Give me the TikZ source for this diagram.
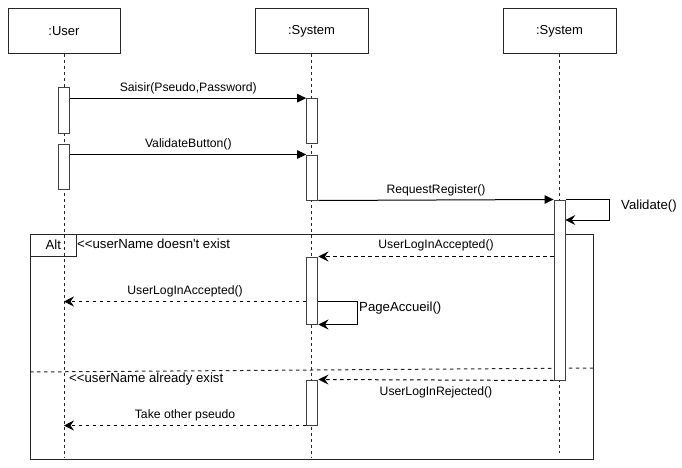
\documentclass[tikz,border=0pt]{standalone}
\usepackage{fontspec}
\setmainfont{Liberation Sans}
\usetikzlibrary{arrows.meta,calc}
\begin{document}
\begin{tikzpicture}[x=1pt,y=-1pt,
  life/.style={draw=black!85, line width=1pt, minimum width=112pt, minimum height=45pt, inner sep=0pt, font=\fontsize{13}{15}\selectfont},
  actbox/.style={draw=black!75, fill=white, line width=1pt, minimum width=11.3pt, inner sep=0pt},
  lline/.style={dash pattern=on 3pt off 3pt, line width=0.9pt, black!85},
  msg/.style={-{Triangle[length=9pt,width=8.5pt]}, line width=1pt},
  ret/.style={-{Stealth[length=10pt,width=10pt,inset=3.5pt]}, dash pattern=on 3.5pt off 3.5pt, line width=1pt},
  selfmsg/.style={-{Stealth[length=10pt,width=10pt,inset=3.5pt]}, line width=1pt},
  mlab/.style={font=\fontsize{12.2}{14}\selectfont, inner sep=0pt},
  big/.style={font=\fontsize{13.2}{15}\selectfont, inner sep=0pt},
]
\useasboundingbox (0,0) rectangle (682,468);

% lifeline heads
\node[life] (user) at (64,31.5) {:User};
\node[life, minimum width=113pt] (sys1) at (311.5,31.5) {:System};
\node[life, minimum width=113pt] (sys2) at (559.5,31.5) {:System};

\coordinate (userEnd) at (64,457);
\coordinate (sys1End) at (311.5,457);
\coordinate (sys2End) at (559.5,453);

\draw[lline] (user.south) -- (userEnd);
\draw[lline] (sys1.south) -- (sys1End);
\draw[lline] (sys2.south) -- (sys2End);

% alt frame
\node[draw=black!85, line width=1pt, minimum width=562.5pt, minimum height=225pt, inner sep=0pt] (alt) at (311.75,346.5) {};
\node[draw=black!85, line width=1pt, minimum width=45.5pt, minimum height=22pt, inner sep=0pt, anchor=north west, big] (alttag) at (alt.north west) {Alt};
\node[big, anchor=west] (cond1) at (77,244) {<{}<userName doesn\textquotesingle t exist};
\node[big, anchor=west] (cond2) at (69,379.5) {<{}<userName already exist};
\draw[dash pattern=on 3.5pt off 3.5pt, line width=1pt, black!85] (alt.west |- 0,372) -- (alt.east |- 0,368);

% activations
\node[actbox, minimum height=45pt] (u1) at (64.3,110.5) {};
\node[actbox, minimum height=45pt] (u2) at (64.3,166.5) {};
\node[actbox, minimum height=45.3pt] (s1a) at (312.3,121.3) {};
\node[actbox, minimum height=45pt] (s1b) at (312.3,177.5) {};
\node[actbox, minimum height=180pt] (s2) at (559.7,290) {};
\node[actbox, minimum height=67pt] (s1c) at (312.3,290.5) {};
\node[actbox, minimum height=45pt] (s1d) at (312.3,402.5) {};

% messages
\draw[msg] (u1.east |- s1a.north) -- node[mlab, yshift=10pt] {Saisir(Pseudo,Password)} (s1a.north west);
\draw[msg] (u2.east |- s1b.north) -- node[mlab, yshift=10pt] {ValidateButton()} (s1b.north west);
\draw[msg] (s1b.south east) -- node[mlab, yshift=10pt] {RequestRegister()} (s2.north west);

% Validate self call
\coordinate (valEnd) at (565.3,220);
\draw[selfmsg] (s2.north east) -- ++(43.5,0) |- (valEnd);
\node[big, anchor=west] (valLab) at (621,206) {Validate()};

% alt branch 1
\draw[ret] (s2.west |- s1c.north) -- node[mlab, yshift=11pt] {UserLogInAccepted()} (s1c.north east);
\coordinate (pa) at (318,301.5);
\draw[ret] (s1c.west |- pa) -- node[mlab, yshift=10.5pt] {UserLogInAccepted()} (user |- pa);
\draw[selfmsg] (s1c.east |- pa) -- ++(38.7,0) |- (s1c.south east);
\node[big, anchor=west] (paLab) at (359,308) {PageAccueil()};

% alt branch 2
\draw[ret] (s2.south west) -- node[mlab, yshift=-12.5pt] {UserLogInRejected()} (s1d.north east);
\draw[ret] (s1d.south west) -- node[mlab, yshift=10.5pt] {Take other pseudo} (user |- s1d.south);
\end{tikzpicture}
\end{document}
